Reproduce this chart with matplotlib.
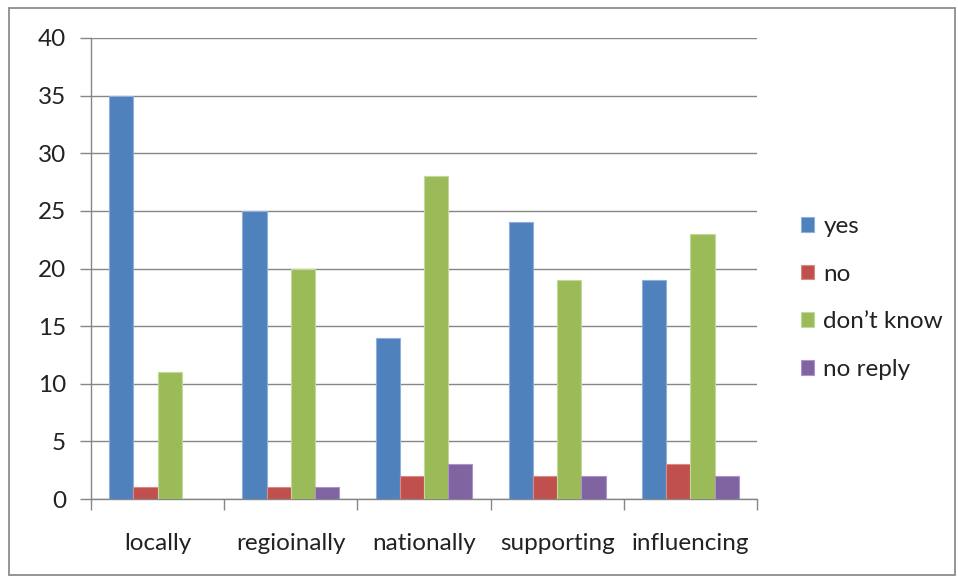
import numpy as np
from matplotlib import pyplot as plt
from matplotlib.patches import Rectangle

categories = ['locally', 'regioinally', 'nationally', 'supporting', 'influencing']
series = ['yes', 'no', 'don\u2019t know', 'no reply']
yes = [35, 25, 14, 24, 19]
no = [1, 1, 2, 2, 3]
dont_know = [11, 20, 28, 19, 23]
no_reply = [0, 1, 3, 2, 2]
values = [yes, no, dont_know, no_reply]
colors = ['#4F81BD', '#C0504D', '#9BBB59', '#8064A2']
edges = ['#8FB0DA', '#D98A88', '#C3D99A', '#A995C6']

plt.rcParams['font.family'] = ['Lato', 'DejaVu Sans']

fig = plt.figure(dpi=100, figsize=(9.58, 5.78))
ax = fig.add_axes([91/958, 1 - 499/578, (757 - 91)/958, (499 - 38)/578])

# outer chart border
fig.patches.append(Rectangle((9/958, 3/578), 946/958, 567/578, transform=fig.transFigure,
                             fill=False, edgecolor='#8C8C8C', linewidth=1.3))

# gap width 150% like excel
w = 1 / 5.5
x = np.arange(len(categories))
for i, (vals, c, e, name) in enumerate(zip(values, colors, edges, series)):
    ax.bar(x - 1.5 * w + i * w, vals, width=w, color=c, edgecolor=e, linewidth=0.8,
           label=name, zorder=3)

ax.set_xlim(-0.5, len(categories) - 0.5)
ax.set_ylim(0, 40)
ax.set_yticks(range(0, 41, 5))
ax.yaxis.grid(True, color='#868686', linewidth=1.0, zorder=0)

ax.set_xticks(x)
ax.set_xticklabels(categories)
ax.set_xticks(np.arange(-0.5, len(categories)), minor=True)
ax.tick_params(axis='x', which='major', length=0, pad=24.5, labelsize=17.5, colors='#222222')
ax.tick_params(axis='x', which='minor', length=8, width=1.0, color='#868686')
ax.tick_params(axis='y', length=8, width=1.0, color='#868686', pad=10, labelsize=17.5,
               labelcolor='#222222')

for s in ['top', 'right']:
    ax.spines[s].set_visible(False)
for s in ['left', 'bottom']:
    ax.spines[s].set_color('#868686')
    ax.spines[s].set_linewidth(1.0)

ax.legend(loc='center left', bbox_to_anchor=(1.051, 0.436), borderaxespad=0, frameon=False,
          fontsize=17.5, handlelength=0.55, handleheight=0.55, handletextpad=0.38,
          labelspacing=1.1, labelcolor='#222222')

plt.savefig('out.png', dpi=100)
